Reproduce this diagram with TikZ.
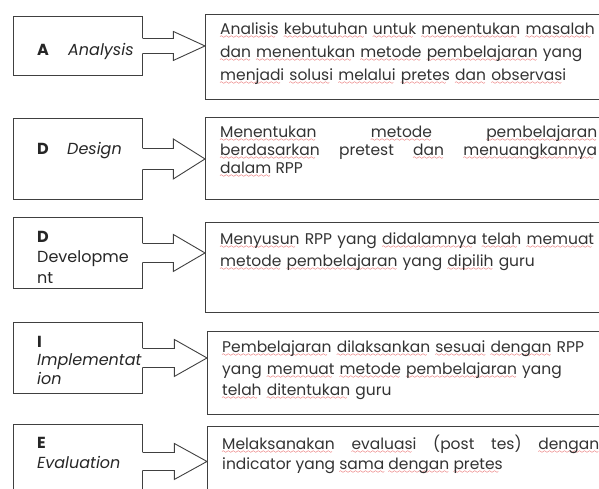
\documentclass[tikz,border=0pt]{standalone}
\usepackage{fontspec}
\setmainfont{Poppins}
\usetikzlibrary{calc}
\font\wavefont=lasy6
\newsavebox\sqbox
% red squiggle under a word
\newcommand\sq[1]{\leavevmode\sbox\sqbox{#1}\rlap{\lower4pt\hbox to\wd\sqbox{\color{red!85!black}\leaders\hbox{\wavefont\char58}\hfil}}\usebox\sqbox}
\tikzset{
  boxline/.style={draw=black!75, line width=0.9pt},
  lbox/.style={boxline, rectangle, anchor=north west, inner sep=0pt, minimum width=129pt},
  rbox/.style={boxline, rectangle, anchor=north west, inner sep=0pt, minimum width=420pt},
  ltext/.style={anchor=west, inner sep=0pt, align=left, text=black!85},
  rtext/.style={anchor=north west, inner sep=0pt, text width=377pt, text=black!80},
}
\begin{document}
\begin{tikzpicture}[x=1pt, y=-1pt]
    \useasboundingbox (0,0) rectangle (599,488);
    \clip (0,0) rectangle (599,488);
    % the five steps, left boxes
    \node[lbox, minimum height=59pt] (lA) at (13,16) {};
    \node[lbox, minimum height=81pt] (lD) at (13,118) {};
    \node[lbox, minimum height=71pt] (lDv) at (13,217) {};
    \node[lbox, minimum height=71pt] (lI) at (13,322) {};
    \node[lbox, minimum height=74pt] (lE) at (13,424) {};
    % right boxes, cut by the page edge
    \node[rbox, minimum height=85pt] (rA) at (205,14) {};
    \node[rbox, minimum height=82pt] (rD) at (205,117) {};
    \node[rbox, minimum height=90pt] (rDv) at (205,222) {};
    \node[rbox, minimum height=83pt] (rI) at (207,331) {};
    \node[rbox, minimum height=80pt] (rE) at (207,426) {};
    % block arrows: from/to/shaft half/head half
    \foreach \a/\b/\s/\h in {lA/rA/7.5/14.5, lD/rD/10.5/20, lDv/rDv/9.5/18.5, lI/rI/9.5/18.5, lE/rE/9/18} {
      \coordinate (tip) at (\a.east -| \b.west);
      \coordinate (neck) at ($(\a.east)!0.49!(tip)$);
      \fill[white] ([shift={(-1.5pt,\s pt)}]\a.east) -- ([yshift=\s pt]neck) -- ([yshift=\h pt]neck)
        -- (tip) -- ([yshift=-\h pt]neck) -- ([yshift=-\s pt]neck) -- ([shift={(-1.5pt,-\s pt)}]\a.east) -- cycle;
      \draw[boxline] ([yshift=\s pt]\a.east) -- ([yshift=\s pt]neck) -- ([yshift=\h pt]neck)
        -- (tip) -- ([yshift=-\h pt]neck) -- ([yshift=-\s pt]neck) -- ([yshift=-\s pt]\a.east);
    }
    % step names
    \node[ltext, font=\fontsize{16}{17}\selectfont] (tA) at (37,51) {\makebox[31pt][l]{\textbf{A}}\textit{Analysis}};
    \node[ltext, font=\fontsize{16}{17}\selectfont] (tD) at (37,151) {\makebox[30pt][l]{\textbf{D}}\textit{Design}};
    \node[ltext, font=\fontsize{16}{20.5}\selectfont] (tDv) at (37,257) {\textbf{D}\\Developme\\nt};
    \node[ltext, font=\fontsize{16}{18.5}\selectfont] (tI) at (37,360) {\textbf{I}\\\textit{Implementat}\\\textit{ion}};
    \node[ltext, font=\fontsize{16}{20}\selectfont] (tE) at (37,453) {\textbf{E}\\\textit{Evaluation}};
    % descriptions
    \node[rtext, align=left, font=\fontsize{15.5}{23}\selectfont] (dA) at (220,22.5) {%
      \sq{Analisis} \sq{kebutuhan} \sq{untuk} \sq{menentukan} \sq{masalah}\\
      \sq{dan} \sq{menentukan} \sq{metode} \sq{pembelajaran} yang\\
      \sq{menjadi} \sq{solusi} \sq{melalui} \sq{pretes} \sq{dan} \sq{observasi}};
    \node[rtext, align=justify, font=\fontsize{15.5}{18}\selectfont] (dD) at (220,125.5) {%
      \sq{Menentukan} \sq{metode} \sq{pembelajaran}\linebreak
      \sq{berdasarkan} pretest \sq{dan} \sq{menuangkannya}\linebreak
      \sq{dalam} RPP};
    \node[rtext, align=left, font=\fontsize{15.5}{22}\selectfont] (dDv) at (220,232) {%
      \sq{Menyusun} RPP yang \sq{didalamnya} \sq{telah} \sq{memuat}\\
      \sq{metode} \sq{pembelajaran} yang \sq{dipilih} guru};
    \node[rtext, align=left, font=\fontsize{15.5}{21.5}\selectfont] (dI) at (222,340.5) {%
      \sq{Pembelajaran} \sq{dilaksankan} \sq{sesuai} \sq{dengan} RPP\\
      yang \sq{memuat} \sq{metode} \sq{pembelajaran} yang\\
      \sq{telah} \sq{ditentukan} guru};
    \node[rtext, align=justify, font=\fontsize{15.5}{20}\selectfont] (dE) at (222,434.5) {%
      \sq{Melaksanakan} \sq{evaluasi} (post tes) \sq{dengan}\linebreak
      indicator yang \sq{sama} \sq{dengan} \sq{pretes}};
\end{tikzpicture}
\end{document}
